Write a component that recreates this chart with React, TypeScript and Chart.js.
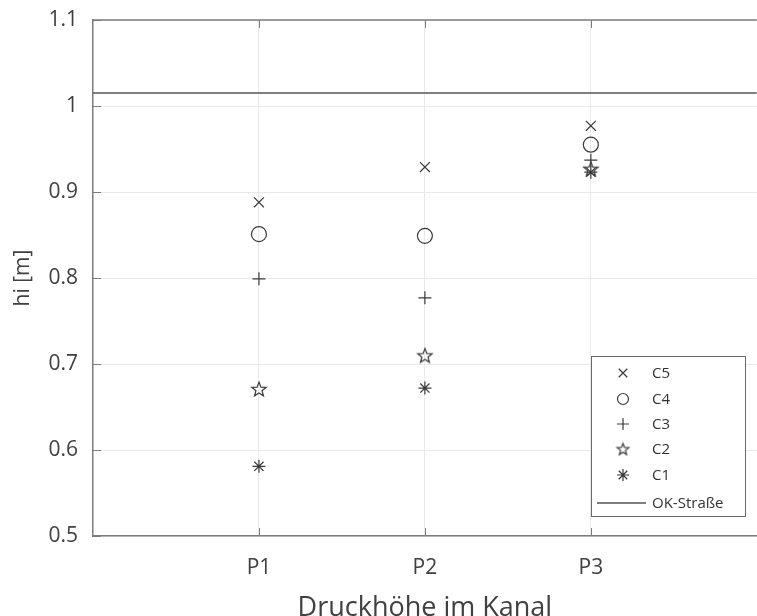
import React, { useEffect, useRef } from "react";
import { Chart, registerables } from "chart.js";
import { drawPoint } from "chart.js/helpers";

Chart.register(...registerables);

const categories = ["P1", "P2", "P3"];
const categoryX = [1, 2, 3];
const c5 = [0.888, 0.929, 0.977];
const c4 = [0.851, 0.849, 0.955];
const c3 = [0.799, 0.777, 0.937];
const c2 = [0.671, 0.71, 0.927];
const c1 = [0.581, 0.672, 0.923];
const okStrasse = 1.015;
const yTickValues = [0.5, 0.6, 0.7, 0.8, 0.9, 1.0, 1.1];
const yTickLabels = ["0.5", "0.6", "0.7", "0.8", "0.9", "1", "1.1"];

const FONT = "'Open Sans', 'Noto Sans', sans-serif";
const MARK = "#3a3a3a";
const AXIS = "#7c7c7c";

function makeStar(R: number, r: number): HTMLCanvasElement {
  const size = Math.ceil(R * 2 + 4);
  const c = document.createElement("canvas");
  c.width = size;
  c.height = size;
  const ctx = c.getContext("2d")!;
  const cx = size / 2, cy = size / 2 + R * 0.09;
  ctx.beginPath();
  for (let i = 0; i < 10; i++) {
    const rad = i % 2 === 0 ? R : r;
    const a = -Math.PI / 2 + (i * Math.PI) / 5;
    const x = cx + rad * Math.cos(a);
    const y = cy + rad * Math.sin(a);
    if (i === 0) ctx.moveTo(x, y);
    else ctx.lineTo(x, y);
  }
  ctx.closePath();
  ctx.strokeStyle = MARK;
  ctx.lineWidth = 1.2;
  ctx.stroke();
  return c;
}

export default function App() {
  const ref = useRef<HTMLCanvasElement>(null);
  useEffect(() => {
    document.body.style.margin = "0";
    const star = makeStar(7.6, 3.2);
    const starSmall = makeStar(6.2, 2.6);
    const pts = (vals: number[]) => vals.map((v, i) => ({ x: categoryX[i], y: v }));
    const series = [
      { label: "C5", data: c5, style: "crossRot", radius: 7, legendStyle: "crossRot", legendRadius: 6 },
      { label: "C4", data: c4, style: "circle", radius: 7.5, legendStyle: "circle", legendRadius: 5.5 },
      { label: "C3", data: c3, style: "cross", radius: 6.5, legendStyle: "cross", legendRadius: 6 },
      { label: "C2", data: c2, style: star, radius: 8, legendStyle: starSmall, legendRadius: 6 },
      { label: "C1", data: c1, style: "star", radius: 6.5, legendStyle: "star", legendRadius: 6 },
    ];
    const datasets: any[] = series.map((s) => ({
      type: "scatter",
      label: s.label,
      data: pts(s.data),
      pointStyle: s.style,
      pointRadius: s.radius,
      pointBorderColor: MARK,
      pointBackgroundColor: "rgba(0,0,0,0)",
      pointBorderWidth: 1.2,
      showLine: false,
      legendStyle: s.legendStyle,
      legendRadius: s.legendRadius,
    }));
    datasets.push({
      type: "line",
      label: "OK-Straße",
      data: [
        { x: 0, y: okStrasse },
        { x: 4, y: okStrasse },
      ],
      borderColor: "#555555",
      borderWidth: 1.5,
      pointRadius: 0,
      fill: false,
    });

    const decor = {
      id: "decor",
      afterDraw(chart: any) {
        const { ctx, chartArea } = chart;
        const { left, top, right, bottom } = chartArea;
        const xs = chart.scales.x;
        const ys = chart.scales.y;
        ctx.save();
        ctx.strokeStyle = AXIS;
        ctx.lineWidth = 1.5;
        ctx.beginPath();
        ctx.moveTo(left, top);
        ctx.lineTo(right, top);
        ctx.stroke();
        ctx.lineWidth = 1;
        ctx.beginPath();
        yTickValues.forEach((v) => {
          const y = Math.round(ys.getPixelForValue(v)) + 0.5;
          ctx.moveTo(left, y);
          ctx.lineTo(left + 8, y);
        });
        categoryX.forEach((v) => {
          const x = Math.round(xs.getPixelForValue(v)) + 0.5;
          ctx.moveTo(x, bottom);
          ctx.lineTo(x, bottom - 8);
          ctx.moveTo(x, top);
          ctx.lineTo(x, top + 8);
        });
        ctx.stroke();

        // legend
        const bx = 591, by = 356, bw = 154, bh = 160;
        ctx.fillStyle = "#ffffff";
        ctx.fillRect(bx, by, bw, bh);
        ctx.strokeStyle = "#6a6a6a";
        ctx.lineWidth = 1;
        ctx.strokeRect(bx + 0.5, by + 0.5, bw, bh);
        const rows = [373, 399, 424, 449, 475, 503];
        ctx.font = `15px ${FONT}`;
        ctx.textBaseline = "middle";
        ctx.textAlign = "left";
        chart.data.datasets.forEach((ds: any, i: number) => {
          const y = rows[i];
          if (ds.type === "line") {
            ctx.strokeStyle = "#555555";
            ctx.lineWidth = 1.5;
            ctx.beginPath();
            ctx.moveTo(597, y);
            ctx.lineTo(646, y);
            ctx.stroke();
          } else {
            ctx.strokeStyle = MARK;
            ctx.fillStyle = "rgba(0,0,0,0)";
            ctx.lineWidth = 1.2;
            drawPoint(
              ctx,
              {
                pointStyle: ds.legendStyle,
                radius: ds.legendRadius,
                rotation: 0,
                borderWidth: 1.2,
              } as any,
              623,
              y
            );
          }
          ctx.fillStyle = "#333333";
          ctx.fillText(ds.label, 652, y + 1);
        });
        ctx.restore();
      },
    };

    const chart = new Chart(ref.current!, {
      data: { datasets },
      options: {
        animation: false,
        responsive: false,
        layout: { padding: { top: 20, right: 0, left: 0, bottom: 0 } },
        plugins: { legend: { display: false }, tooltip: { enabled: false } },
        scales: {
          x: {
            type: "linear",
            min: 0,
            max: 4,
            afterBuildTicks: (s: any) => {
              s.ticks = categoryX.map((v) => ({ value: v }));
            },
            afterFit: (s: any) => {
              s.height = 80;
              s.paddingLeft = 0;
              s.paddingRight = 0;
            },
            ticks: {
              callback: (v: any) => categories[categoryX.indexOf(Number(v))] ?? "",
              font: { family: FONT, size: 21 },
              color: "#404040",
              padding: 19,
              maxRotation: 0,
            },
            grid: { color: "#e9e9e9", drawTicks: false, lineWidth: 1 },
            border: { color: AXIS, width: 1.5 },
            title: {
              display: true,
              text: "Druckhöhe im Kanal",
              font: { family: FONT, size: 27, lineHeight: 0.6 },
              color: "#404040",
              padding: { top: 0, bottom: 0 },
            },
          },
          y: {
            type: "linear",
            min: 0.5,
            max: 1.1,
            afterBuildTicks: (s: any) => {
              s.ticks = yTickValues.map((v) => ({ value: v }));
            },
            afterFit: (s: any) => {
              s.width = 93;
              s.paddingTop = 0;
              s.paddingBottom = 0;
            },
            ticks: {
              callback: (v: any) => yTickLabels[yTickValues.findIndex((t) => Math.abs(t - Number(v)) < 1e-9)] ?? "",
              font: { family: FONT, size: 21 },
              color: "#404040",
              padding: 15,
            },
            grid: { color: "#e9e9e9", drawTicks: false, lineWidth: 1 },
            border: { color: AXIS, width: 1.5 },
            title: {
              display: true,
              text: "hi [m]",
              font: { family: FONT, size: 21, lineHeight: 1.2 },
              color: "#404040",
              padding: { top: 10, bottom: 0 },
            },
          },
        },
      },
      plugins: [decor],
    } as any);
    return () => chart.destroy();
  }, []);

  return (
    <div style={{ position: "absolute", left: 0, top: 0, width: 757, height: 616, overflow: "hidden", background: "#fff" }}>
      <canvas ref={ref} width={766} height={616} style={{ width: 766, height: 616, display: "block" }} />
    </div>
  );
}
